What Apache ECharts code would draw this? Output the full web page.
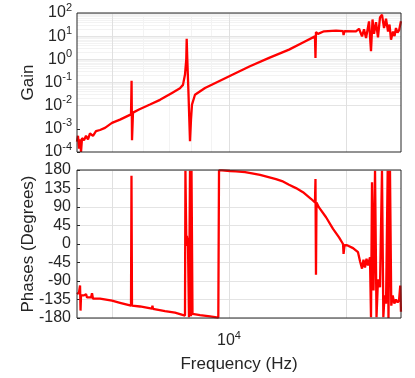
<!DOCTYPE html>
<html>
<head>
<meta charset="utf-8">
<script src="https://cdn.jsdelivr.net/npm/echarts@6/dist/echarts.min.js"></script>
<style>
  html, body { margin: 0; padding: 0; background: #fff; }
  #chart { width: 415px; height: 378px; }
</style>
</head>
<body>
<div id="chart"></div>
<script>
// frequency response
const gainFreq = [4064, 4088, 4113, 4138, 4162, 4187, 4236, 4287, 4338, 4389, 4468, 4548, 4657, 4797, 5000, 5243,
  5596, 5615, 5630, 5662, 5868, 6261, 6645, 7135, 7479, 7614, 7705, 7764, 7783, 7811, 7867, 7937, 7984, 8031, 8175,
  8675, 9480, 10420, 11320, 12680, 14270, 15500, 16640, 16690, 16740, 16940, 17560, 18850, 19650, 19710, 19830,
  21220, 21600, 21990, 22250, 22520, 22920, 23190, 23400, 23610, 23890, 24170, 24460, 24750, 25050, 25350, 25650,
  25880, 26110, 26420, 26660, 26890, 27130, 27380, 27690];
const gainVal = [2.8e-4, 5.0e-4, 1.4e-4, 3.5e-4, 1.0e-4, 4.0e-4, 3.2e-4, 5.0e-4, 3.5e-4, 6.3e-4, 5.0e-4, 7.9e-4, 8.9e-4, 1.1e-3, 1.8e-3, 2.5e-3,
  4.2e-3, 0.12, 3.2e-4, 5.0e-3, 6.8e-3, 0.0112, 0.0178, 0.0355, 0.056, 0.079, 0.22, 1.0, 7.8, 1.0, 0.032, 2.9e-4, 2.5e-3, 0.011, 0.0295,
  0.0575, 0.12, 0.257, 0.5, 1.15, 2.63, 5.37, 9.77, 1.15, 15.1, 12.6, 16.2, 17.4, 16.6, 11.2, 16.6,
  16.2, 20.9, 9.8, 20, 8.3, 43.7, 2.24, 52.5, 12.6, 39.8, 8.9, 64.6, 85.1, 22.4, 56.2, 15.8,
  31.6, 7.1, 15.8, 10, 22.4, 14.1, 17.8, 43.7];

const phaseFreq = [4064, 4113, 4138, 4150, 4162, 4236, 4287, 4312, 4363, 4416, 4442, 4468, 4657, 5000, 5243,
  5596, 5612, 5629, 5903, 6336, 6354, 6374, 6845, 7262, 7705, 7725, 7764, 7792, 7820, 7839, 7889, 7937, 7984, 8008,
  8055, 8128, 8423, 8936, 9386, 9425, 9594, 10060, 10420, 11000, 11460, 12020, 13210, 13690, 14270, 14870, 15500,
  16250, 16640, 16690, 16740, 16790, 17040, 17770, 18520, 19190, 19650, 19710, 19830, 20120, 20850, 21470, 21730,
  21990, 22180, 22380, 22580, 22780, 23050, 23190, 23330, 23540, 23750, 23960, 24170, 24460, 24750, 24950, 25130,
  25350, 25600, 25720, 25950, 26150, 26370, 26630, 26890, 27160, 27380, 27580, 27690];
const phaseVal = [-122, -118, -101, -162, -125, -125, -122, -130, -127, -130, -120, -133, -133, -138, -143,
  -150, 166, -150, -152, -157, -150, -158, -163, -167, -174, 178, 10, 20, -5, 15, -178, 178, -176, 178,
  -170, -171, -173, -176, -179, 179, 179, 177.6, 176.7, 175, 172, 168, 158, 153, 144, 136, 126,
  110, 101, 158, -75, 101, 89, 65, 37, 16, 0, -24, -3, -3, -10, -20, -42,
  -60, -38, -57, -36, -52, -32, -178, 150, -113, 178, -178, -86, -105, 178, -178, -125,
  -145, 178, -180, 178, -150, -125, -145, -135, -142, -137, -101, -165];

const freqRange = [4064, 27700];
const freqMajorGrid = [5000, 10000, 20000];
const freqMinorGrid = [6000, 7000, 8000, 9000];
const gainDecades = [1e-4, 1e-3, 1e-2, 1e-1, 1, 10, 100];
const minorSteps = [2, 3, 4, 5, 6, 7, 8, 9];
const phaseTicks = [-180, -135, -90, -45, 0, 45, 90, 135, 180];

const FONT = "'Liberation Sans', Arial, Helvetica, sans-serif";
const TXT = '#262626';

const gainMinor = [];
gainDecades.slice(0, -1).forEach(d => minorSteps.forEach(m => gainMinor.push(d * m)));

function zip(xs, ys) { return xs.map((x, i) => [x, ys[i]]); }

function powLabel(v) {
  const e = Math.round(Math.log10(v));
  if (Math.abs(Math.log10(v) - e) > 1e-6) return '';
  return '10{s|' + e + '}';
}
const powRich = {
  s: { fontSize: 11, fontFamily: FONT, color: TXT, padding: [0, 0, 11, 0] }
};

function vLines(vals, color) {
  return vals.map(v => ({ xAxis: v, lineStyle: { color: color, width: 1, type: 'solid' } }));
}
function hLines(vals, color) {
  return vals.map(v => ({ yAxis: v, lineStyle: { color: color, width: 1, type: 'solid' } }));
}

const chart = echarts.init(document.getElementById('chart'));

const nameStyle = { fontSize: 17, color: TXT, fontFamily: FONT };

const option = {
  animation: false,
  backgroundColor: '#fff',
  textStyle: { fontFamily: FONT },
  grid: [
    { left: 77, top: 13, width: 324, height: 139, show: true, borderColor: TXT, borderWidth: 1, backgroundColor: 'transparent', z: 4 },
    { left: 77, top: 170, width: 324, height: 148, show: true, borderColor: TXT, borderWidth: 1, backgroundColor: 'transparent', z: 4 }
  ],
  xAxis: [
    {
      type: 'log', gridIndex: 0, min: freqRange[0], max: freqRange[1],
      axisLine: { show: false }, axisTick: { show: false }, axisLabel: { show: false },
      splitLine: { show: false }
    },
    {
      type: 'log', gridIndex: 1, min: freqRange[0], max: freqRange[1],
      axisLine: { show: false }, axisTick: { show: false }, splitLine: { show: false },
      axisLabel: {
        formatter: powLabel, rich: powRich, margin: 12,
        fontSize: 16, color: TXT, fontFamily: FONT, showMinLabel: true, showMaxLabel: true
      },
      name: 'Frequency (Hz)', nameLocation: 'middle', nameGap: 38, nameMoveOverlap: false,
      nameTextStyle: nameStyle
    }
  ],
  yAxis: [
    {
      type: 'log', gridIndex: 0, min: 1e-4, max: 100, splitNumber: 6,
      axisLine: { show: false },
      axisTick: { show: true, inside: true, length: 3, lineStyle: { color: TXT } },
      splitLine: { show: false },
      axisLabel: { formatter: powLabel, rich: powRich, fontSize: 16, color: TXT, fontFamily: FONT, margin: 5 },
      name: 'Gain', nameLocation: 'middle', nameGap: 40, nameMoveOverlap: false,
      nameTextStyle: nameStyle
    },
    {
      type: 'value', gridIndex: 1, min: -180, max: 180, interval: 45,
      axisLine: { show: false },
      axisTick: { show: true, inside: true, length: 3, lineStyle: { color: TXT } },
      splitLine: { show: true, lineStyle: { color: '#e4e4e4' } },
      axisLabel: {
        fontSize: 16, color: TXT, fontFamily: FONT, margin: 6,
        formatter: v => (phaseTicks.indexOf(v) >= 0 ? String(v) : '')
      },
      name: 'Phases (Degrees)', nameLocation: 'middle', nameGap: 40, nameMoveOverlap: false,
      nameTextStyle: nameStyle
    }
  ],
  series: [
    // grid lines drawn below the curves
    {
      type: 'line', xAxisIndex: 0, yAxisIndex: 0, data: [], z: 1, silent: true,
      markLine: {
        z: 1, silent: true, symbol: 'none', label: { show: false }, animation: false,
        data: [].concat(hLines(gainMinor, '#f3f3f3'), vLines(freqMinorGrid, '#f3f3f3'),
          hLines(gainDecades, '#e4e4e4'), vLines(freqMajorGrid, '#e0e0e0'))
      }
    },
    {
      type: 'line', xAxisIndex: 1, yAxisIndex: 1, data: [], z: 1, silent: true,
      markLine: {
        z: 1, silent: true, symbol: 'none', label: { show: false }, animation: false,
        data: vLines(freqMajorGrid, '#e0e0e0')
      }
    },
    {
      name: 'Gain', type: 'line', xAxisIndex: 0, yAxisIndex: 0, z: 3,
      showSymbol: false, data: zip(gainFreq, gainVal),
      lineStyle: { color: '#ff0000', width: 2.3 }, itemStyle: { color: '#ff0000' }
    },
    {
      name: 'Phase', type: 'line', xAxisIndex: 1, yAxisIndex: 1, z: 3,
      showSymbol: false, data: zip(phaseFreq, phaseVal),
      lineStyle: { color: '#ff0000', width: 2.3 }, itemStyle: { color: '#ff0000' }
    }
  ]
};

option && chart.setOption(option);
</script>
</body>
</html>
